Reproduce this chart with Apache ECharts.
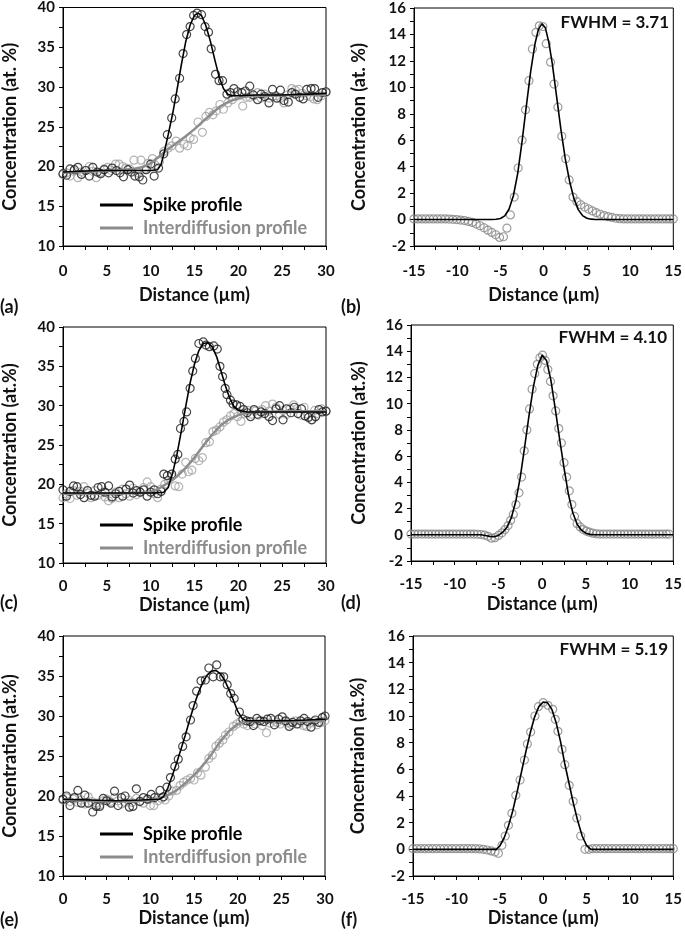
<!DOCTYPE html>
<html><head><meta charset="utf-8">
<script src="https://cdn.jsdelivr.net/npm/echarts/dist/echarts.min.js"></script>
<style>html,body{margin:0;padding:0;background:#fff}#c{width:685px;height:939px}</style>
</head><body><div id="c"></div>
<script>
// ---------------- DATA ----------------
const leftXTicks = [0, 5, 10, 15, 20, 25, 30];
const leftYTicks = [10, 15, 20, 25, 30, 35, 40];
const rightXTicks = [-15, -10, -5, 0, 5, 10, 15];
const rightYTicks = [-2, 0, 2, 4, 6, 8, 10, 12, 14, 16];
const fwhmLabels = ['FWHM = 3.71', 'FWHM = 4.10', 'FWHM = 5.19'];

// Panel (a)
const aSpikePts = [[0.0,19.1],[0.4,18.9],[0.8,19.7],[1.3,19.6],[1.7,19.9],[2.1,19.0],[2.6,19.5],[3.0,18.8],[3.4,19.9],[3.9,19.3],[4.3,19.1],[4.7,19.6],[5.2,19.2],[5.6,19.8],[6.1,19.5],[6.5,19.2],[6.9,18.7],[7.4,19.6],[7.8,19.3],[8.2,18.8],[8.7,18.7],[9.1,18.3],[9.5,19.6],[10.0,20.3],[10.4,18.8],[10.9,19.8],[11.5,21.6],[11.9,24.0],[12.4,26.1],[12.8,28.5],[13.3,31.1],[13.7,34.2],[14.1,36.6],[14.5,37.6],[14.9,39.0],[15.3,39.3],[15.8,39.1],[16.2,37.6],[16.6,36.9],[16.9,34.8],[17.4,31.6],[17.8,30.8],[18.2,30.8],[18.7,29.1],[19.1,29.3],[19.5,29.8],[19.9,29.4],[20.4,29.3],[20.8,29.5],[21.3,30.1],[21.7,29.0],[22.2,28.4],[22.6,29.1],[23.0,28.8],[23.5,28.0],[23.9,29.7],[24.4,28.6],[24.8,29.6],[25.2,28.3],[25.7,28.1],[26.1,29.3],[26.5,29.1],[27.0,28.7],[27.4,28.5],[27.8,29.7],[28.3,29.8],[28.7,29.8],[29.1,28.7],[29.6,29.3],[30.0,29.4]];
const aInterPts = [[0.0,19.0],[0.4,19.2],[0.8,18.8],[1.2,19.4],[1.7,18.6],[2.1,19.3],[2.5,19.5],[3.0,20.0],[3.4,19.4],[3.8,18.6],[4.2,19.2],[4.7,19.7],[5.1,19.9],[5.5,19.5],[6.0,20.3],[6.4,20.3],[6.8,20.0],[7.2,19.8],[7.6,19.7],[8.1,20.8],[8.5,19.2],[8.9,20.8],[9.3,19.6],[9.7,20.4],[10.2,21.0],[10.5,20.2],[11.0,20.6],[11.5,21.9],[12.0,22.3],[12.4,22.6],[12.9,23.2],[13.3,22.3],[13.8,22.8],[14.2,22.6],[14.5,23.6],[14.9,23.4],[15.4,25.6],[15.9,24.3],[16.3,26.3],[16.7,26.8],[17.1,26.5],[17.5,27.0],[17.9,27.8],[18.3,27.2],[18.8,28.0],[19.3,28.4],[19.7,28.8],[20.1,28.9],[20.5,27.6],[20.9,28.7],[21.3,28.7],[21.8,28.9],[22.2,29.3],[22.6,28.6],[23.0,29.1],[23.5,28.6],[23.9,28.8],[24.3,28.9],[24.8,28.6],[25.2,28.0],[25.6,29.0],[26.1,29.8],[26.5,29.6],[26.9,29.7],[27.3,29.2],[27.8,28.9],[28.2,28.8],[28.6,28.5],[29.0,28.4],[29.5,28.9],[30.0,29.3]];
const aSpikeFit = [[0,19.3],[2,19.4],[4,19.5],[6,19.5],[8,19.5],[10,19.5],[10.8,19.6],[11.2,20.3],[11.6,22.0],[12,24.0],[12.5,26.6],[13,29.6],[13.5,32.8],[14,35.7],[14.5,37.8],[15,39.0],[15.4,39.3],[15.8,39.0],[16.3,37.7],[16.8,35.8],[17.3,33.5],[17.8,31.3],[18.3,29.8],[18.8,29.1],[19.3,28.9],[20,28.9],[22,29.0],[25,29.0],[28,29.1],[30,29.2]];
const aInterFit = [[0,19.2],[2,19.3],[4,19.4],[6,19.5],[8,19.7],[9,19.9],[10,20.4],[11,21.3],[12,22.2],[13,23.0],[14,23.8],[15,24.7],[16,25.7],[17,26.7],[18,27.6],[19,28.2],[20,28.6],[21,28.8],[22,28.9],[24,28.9],[26,29.0],[28,29.0],[30,29.0]];

// Panel (b)
const bPts = [[-15.0,0.05],[-14.55,0.05],[-14.1,0.05],[-13.65,0.05],[-13.2,0.05],[-12.75,0.05],[-12.3,0.05],[-11.85,0.05],[-11.4,0.05],[-10.95,0.04],[-10.5,0.02],[-10.05,0.0],[-9.6,-0.04],[-9.15,-0.08],[-8.7,-0.14],[-8.25,-0.22],[-7.8,-0.34],[-7.35,-0.47],[-6.9,-0.62],[-6.45,-0.8],[-6.0,-0.97],[-5.55,-1.15],[-5.1,-1.35],[-4.65,-1.3],[-4.25,-0.65],[-3.85,0.35],[-3.4,1.7],[-2.95,3.9],[-2.5,6.0],[-2.1,8.3],[-1.7,10.5],[-1.3,12.9],[-0.9,14.15],[-0.5,14.65],[-0.1,14.6],[0.3,13.3],[0.8,11.9],[1.2,10.25],[1.65,8.5],[2.1,6.3],[2.55,4.6],[2.95,3.0],[3.4,1.7],[3.85,1.35],[4.3,1.12],[4.75,0.95],[5.2,0.8],[5.65,0.65],[6.1,0.52],[6.55,0.4],[7.0,0.3],[7.45,0.22],[7.9,0.16],[8.35,0.1],[8.8,0.07],[9.25,0.05],[9.7,0.05],[10.15,0.05],[10.6,0.05],[11.05,0.05],[11.5,0.05],[11.95,0.05],[12.4,0.05],[12.85,0.05],[13.3,0.05],[13.75,0.05],[14.2,0.05],[14.6,0.05],[15.0,0.05]];
const bFit = [[-15,0],[-8,0],[-6,0],[-5.5,0.02],[-5,0.08],[-4.5,0.28],[-4,0.8],[-3.5,1.8],[-3,3.5],[-2.5,5.9],[-2,8.6],[-1.5,11.2],[-1,13.3],[-0.6,14.4],[-0.2,14.8],[0.2,14.5],[0.6,13.4],[1,11.8],[1.5,9.3],[2,6.8],[2.5,4.6],[3,2.9],[3.5,1.6],[4,0.75],[4.5,0.3],[5,0.1],[5.5,0.03],[6,0],[15,0]];

// Panel (c)
const cSpikePts = [[0.0,19.3],[0.4,18.5],[0.8,19.1],[1.2,19.8],[1.6,19.7],[2.0,18.7],[2.4,18.3],[2.8,19.2],[3.2,18.6],[3.6,18.5],[4.0,19.6],[4.4,19.7],[4.8,19.0],[5.2,19.8],[5.6,18.4],[6.0,18.8],[6.4,19.1],[6.8,18.5],[7.2,19.4],[7.6,19.9],[8.0,18.9],[8.4,19.2],[8.8,19.0],[9.2,19.3],[9.6,18.5],[10.0,19.0],[10.4,19.3],[10.8,18.8],[11.2,19.1],[11.5,21.3],[11.9,21.1],[12.4,21.3],[12.8,23.2],[13.1,23.8],[13.4,27.1],[13.8,28.0],[14.1,29.2],[14.5,32.2],[14.8,34.4],[15.1,36.0],[15.5,37.9],[16.0,38.1],[16.3,37.7],[16.7,37.5],[17.2,37.6],[17.6,37.2],[17.9,35.0],[18.2,33.7],[18.5,32.2],[18.7,31.4],[19.1,30.7],[19.4,30.2],[19.8,30.1],[20.2,29.9],[20.6,29.5],[21.0,29.1],[21.4,28.6],[21.8,29.5],[22.2,28.9],[22.6,29.2],[23.0,29.0],[23.5,28.6],[23.9,28.1],[24.3,29.6],[24.7,30.0],[25.1,28.2],[25.5,29.6],[26.0,29.1],[26.4,29.8],[26.8,29.0],[27.2,29.6],[27.6,28.7],[28.0,28.5],[28.4,28.2],[28.8,28.6],[29.2,29.5],[29.6,29.2],[30.0,29.3]];
const cInterPts = [[0.0,18.3],[0.4,18.8],[0.8,18.2],[1.2,19.2],[1.6,18.6],[2.0,19.1],[2.4,19.7],[2.8,18.9],[3.2,18.3],[3.6,19.2],[4.0,18.6],[4.4,18.9],[4.8,18.4],[5.2,17.9],[5.6,18.2],[6.0,19.0],[6.4,18.3],[6.8,19.4],[7.2,18.8],[7.6,18.5],[8.0,19.5],[8.4,18.7],[8.8,19.0],[9.2,19.6],[9.6,20.3],[10.0,19.7],[10.4,18.8],[10.8,18.3],[11.2,19.4],[11.6,20.0],[12.0,20.5],[12.4,21.0],[12.8,19.8],[13.2,19.7],[13.6,21.3],[14.0,22.8],[14.3,21.6],[14.7,21.8],[15.1,23.3],[15.5,23.0],[15.9,23.4],[16.3,25.3],[16.7,25.4],[17.1,26.7],[17.5,26.9],[17.9,27.3],[18.3,27.9],[18.7,28.2],[19.1,28.7],[19.5,29.0],[19.9,28.6],[20.3,28.0],[20.7,29.0],[21.1,29.4],[21.5,28.9],[21.9,29.3],[22.3,28.8],[22.7,29.5],[23.1,30.0],[23.5,29.3],[23.9,30.2],[24.3,29.8],[24.7,28.9],[25.1,29.4],[25.5,28.9],[25.9,29.6],[26.3,30.1],[26.7,29.6],[27.1,28.8],[27.5,29.8],[27.9,28.9],[28.3,28.2],[28.7,29.4],[29.1,29.0],[29.5,29.6],[30.0,29.3]];
const cSpikeFit = [[0,18.9],[5,18.9],[10,18.9],[11.5,19.0],[12,19.6],[12.5,21.4],[13,23.8],[13.5,26.8],[14,29.9],[14.5,32.9],[15,35.3],[15.5,37.0],[16,37.9],[16.5,38.0],[17,37.5],[17.5,36.3],[18,34.5],[18.5,32.6],[19,31.0],[19.5,29.9],[20,29.4],[21,29.2],[23,29.2],[26,29.2],[30,29.2]];
const cInterFit = [[0,18.8],[3,18.8],[6,18.8],[9,18.9],[10,19.0],[11,19.5],[12,20.2],[13,21.0],[14,22.1],[15,23.4],[16,24.9],[17,26.3],[18,27.5],[19,28.3],[20,28.8],[21,29.1],[22,29.2],[25,29.3],[30,29.3]];

// Panel (d)
const dPts = [[-15.0,0.05],[-14.6,0.05],[-14.2,0.05],[-13.8,0.05],[-13.4,0.05],[-13.0,0.05],[-12.6,0.05],[-12.2,0.05],[-11.8,0.05],[-11.4,0.05],[-11.0,0.05],[-10.6,0.05],[-10.2,0.05],[-9.8,0.05],[-9.4,0.05],[-9.0,0.05],[-8.6,0.05],[-8.2,0.05],[-7.8,0.05],[-7.4,0.04],[-7.0,0.02],[-6.6,-0.02],[-6.2,-0.12],[-5.8,-0.26],[-5.4,-0.22],[-5.0,-0.05],[-4.6,0.15],[-4.25,0.4],[-3.9,0.7],[-3.6,1.1],[-3.3,1.55],[-3.0,2.3],[-2.65,3.2],[-2.35,4.4],[-2.05,6.4],[-1.75,8.0],[-1.45,9.6],[-1.15,11.1],[-0.85,12.3],[-0.55,13.0],[-0.25,13.5],[0.05,13.7],[0.35,13.3],[0.65,12.6],[0.95,11.7],[1.25,10.6],[1.55,9.45],[1.9,8.1],[2.2,7.0],[2.5,5.5],[2.8,4.4],[3.1,3.35],[3.4,2.3],[3.7,1.4],[4.0,0.85],[4.35,0.6],[4.7,0.4],[5.05,0.28],[5.4,0.2],[5.8,0.12],[6.2,0.07],[6.6,0.05],[7.0,0.05],[7.4,0.05],[7.8,0.05],[8.2,0.05],[8.6,0.05],[9.0,0.05],[9.4,0.05],[9.8,0.05],[10.2,0.05],[10.6,0.05],[11.0,0.05],[11.4,0.05],[11.8,0.05],[12.2,0.05],[12.6,0.05],[13.0,0.05],[13.4,0.05],[13.8,0.05],[14.2,0.05],[14.5,0.05]];
const dFit = [[-15,0],[-7,0],[-6.5,-0.05],[-6,-0.12],[-5.5,-0.15],[-5,-0.05],[-4.5,0.2],[-4,0.6],[-3.5,1.35],[-3,2.6],[-2.5,4.4],[-2,6.7],[-1.5,9.1],[-1,11.3],[-0.5,12.9],[0,13.7],[0.5,13.3],[1,11.8],[1.5,9.6],[2,7.3],[2.5,5.1],[3,3.1],[3.5,1.7],[4,0.8],[4.5,0.35],[5,0.12],[5.5,0.03],[6,0],[15,0]];

// Panel (e)
const eSpikePts = [[0.0,19.6],[0.4,20.0],[0.8,18.8],[1.3,19.8],[1.7,20.7],[2.1,19.1],[2.5,20.1],[2.9,19.1],[3.4,18.0],[3.8,18.7],[4.2,18.7],[4.6,19.7],[5.0,19.4],[5.5,19.1],[5.9,20.6],[6.3,18.8],[6.7,19.8],[7.1,20.0],[7.6,18.6],[8.0,18.7],[8.4,20.9],[8.8,19.3],[9.2,19.8],[9.7,19.6],[10.1,20.2],[10.5,19.8],[11.1,20.7],[11.5,19.9],[11.9,21.1],[12.3,22.3],[12.8,23.7],[13.2,24.6],[13.7,26.2],[14.1,27.4],[14.6,29.5],[14.9,31.3],[15.3,33.1],[15.8,34.4],[16.3,34.5],[16.7,36.0],[17.2,34.9],[17.6,36.4],[18.0,34.9],[18.4,34.9],[18.8,33.9],[19.2,32.8],[19.6,32.2],[20.2,30.5],[20.6,29.6],[21.0,29.4],[21.4,29.3],[21.8,28.8],[22.2,29.7],[22.6,29.4],[23.0,29.3],[23.4,29.6],[23.8,29.7],[24.2,28.9],[24.7,29.6],[25.1,29.9],[25.5,29.4],[25.9,28.7],[26.3,29.2],[26.8,29.0],[27.2,29.4],[27.6,29.7],[28.0,29.3],[28.4,28.6],[28.9,29.5],[29.3,29.2],[29.7,29.8],[30.0,30.0]];
const eInterPts = [[0.0,19.5],[0.4,19.8],[0.8,19.3],[1.2,19.6],[1.7,19.2],[2.1,19.5],[2.5,19.0],[2.9,19.9],[3.3,19.3],[3.8,19.1],[4.2,18.9],[4.6,19.4],[5.0,19.6],[5.4,19.3],[5.9,19.8],[6.3,19.4],[6.7,19.0],[7.1,19.2],[7.5,19.5],[7.9,19.2],[8.4,19.7],[8.8,19.4],[9.2,19.1],[9.6,19.6],[10.0,18.8],[10.4,18.8],[10.9,19.4],[11.3,19.7],[11.7,19.5],[12.1,20.0],[12.5,20.6],[13.0,20.7],[13.4,21.3],[13.8,21.7],[14.2,22.0],[14.6,22.2],[15.0,22.0],[15.4,22.9],[15.8,22.6],[16.3,23.6],[16.7,24.7],[17.1,25.1],[17.5,26.2],[17.9,26.6],[18.3,27.0],[18.6,27.6],[19.0,28.0],[19.5,28.7],[19.9,29.0],[20.3,29.3],[20.7,29.0],[21.1,28.8],[21.6,29.3],[22.0,29.0],[22.4,29.4],[22.8,28.8],[23.3,27.9],[23.7,29.1],[24.1,29.5],[24.5,29.2],[24.9,29.0],[25.4,29.3],[25.8,29.1],[26.2,28.9],[26.6,29.4],[27.0,29.0],[27.5,28.8],[27.9,28.7],[28.3,29.1],[28.7,29.3],[29.1,28.9],[29.6,29.2],[30.0,29.4]];
const eSpikeFit = [[0,19.6],[3,19.5],[6,19.4],[9,19.5],[11,19.6],[11.5,19.9],[12,21.0],[12.5,22.5],[13,24.1],[13.5,25.8],[14,27.6],[14.5,29.5],[15,31.3],[15.5,32.9],[16,34.2],[16.5,35.1],[17,35.6],[17.5,35.7],[18,35.3],[18.5,34.5],[19,33.3],[19.5,32.0],[20,30.6],[20.5,29.7],[21,29.4],[23,29.4],[26,29.4],[30,29.6]];
const eInterFit = [[0,19.6],[2,19.4],[5,19.3],[8,19.3],[10,19.5],[11,19.7],[12,20.1],[13,20.7],[14,21.6],[15,22.6],[16,23.8],[17,25.2],[18,26.8],[19,28.1],[20,29.0],[21,29.3],[22,29.4],[26,29.3],[30,29.4]];

// Panel (f)
const fPts = [[-15.0,0.05],[-14.55,0.05],[-14.1,0.05],[-13.65,0.05],[-13.2,0.05],[-12.75,0.05],[-12.3,0.05],[-11.85,0.05],[-11.4,0.05],[-10.95,0.05],[-10.5,0.05],[-10.05,0.05],[-9.6,0.05],[-9.15,0.05],[-8.7,0.05],[-8.25,0.05],[-7.8,0.05],[-7.35,0.03],[-6.9,0.0],[-6.45,-0.05],[-6.0,-0.12],[-5.55,-0.2],[-5.15,-0.3],[-4.75,0.3],[-4.37,1.0],[-4.0,1.8],[-3.6,2.7],[-3.15,4.05],[-2.66,5.2],[-2.16,6.7],[-1.82,7.9],[-1.44,8.8],[-0.95,10.0],[-0.55,10.7],[0.0,11.0],[0.55,10.8],[1.1,10.5],[1.4,9.75],[1.7,8.85],[2.17,7.5],[2.5,6.35],[3.0,4.8],[3.46,3.6],[3.88,2.35],[4.33,1.0],[4.82,0.0],[5.28,0.0],[5.7,0.05],[6.15,0.05],[6.6,0.05],[7.05,0.05],[7.5,0.05],[7.95,0.05],[8.4,0.05],[8.85,0.05],[9.3,0.05],[9.75,0.05],[10.2,0.05],[10.65,0.05],[11.1,0.05],[11.55,0.05],[12.0,0.05],[12.45,0.05],[12.9,0.05],[13.35,0.05],[13.8,0.05],[14.25,0.05],[14.65,0.05],[15.0,0.05]];
const fFit = [[-15,0],[-5.4,0],[-5,0.25],[-4.5,0.85],[-4,1.75],[-3.5,2.9],[-3,4.3],[-2.5,5.8],[-2,7.3],[-1.5,8.7],[-1,9.9],[-0.5,10.7],[0,11.05],[0.2,11.1],[0.5,11.0],[1,10.5],[1.5,9.5],[2,8.1],[2.5,6.4],[3,4.9],[3.5,3.4],[4,2.1],[4.5,1.0],[5,0.3],[5.5,0],[15,0]];

// ---------------- LAYOUT / STYLE ----------------
const FONT = 'Lato, "Open Sans", "Liberation Sans", sans-serif';
const TXT = '#111';
const panels = [
  {kind:'L', grid:{left:63, top:7, width:263, height:239}, yName:'Concentration (at. %)', tag:'(a)', tagPos:[0,298], spike:aSpikePts, inter:aInterPts, spikeFit:aSpikeFit, interFit:aInterFit, lm:18, ng:40, yng:44},
  {kind:'R', grid:{left:414, top:8, width:263, height:238}, yName:'Concentration (at. %)', tag:'(b)', tagPos:[341,298], pts:bPts, fit:bFit, fwhm:fwhmLabels[0], fwTop:14, lm:18, ng:40, yng:46},
  {kind:'L', grid:{left:63, top:327, width:263, height:236}, yName:'Concentration (at.%)', tag:'(c)', tagPos:[0,594], spike:cSpikePts, inter:cInterPts, spikeFit:cSpikeFit, interFit:cInterFit, lm:16, ng:33, yng:44},
  {kind:'R', grid:{left:411, top:325, width:264, height:236}, yName:'Concentration (at.%)', tag:'(d)', tagPos:[341,594], pts:dPts, fit:dFit, fwhm:fwhmLabels[1], fwTop:329, lm:16, ng:34, yng:43},
  {kind:'L', grid:{left:63, top:636, width:262, height:240}, yName:'Concentration (at.%)', tag:'(e)', tagPos:[0,911], spike:eSpikePts, inter:eInterPts, spikeFit:eSpikeFit, interFit:eInterFit, lm:16, ng:33, yng:44},
  {kind:'R', grid:{left:413, top:636, width:263, height:240}, yName:'Concentraion (at.%)', tag:'(f)', tagPos:[341,911], pts:fPts, fit:fFit, fwhm:fwhmLabels[2], fwTop:641, lm:16, ng:33, yng:46}
];

const grids = [], xAxes = [], yAxes = [], series = [], titles = [], legends = [];
const axisCommon = {
  axisLine:{show:true, onZero:false, lineStyle:{color:'#000', width:1}},
  axisTick:{show:true, length:4, lineStyle:{color:'#000', width:1}},
  minorTick:{show:true, splitNumber:2, length:4, lineStyle:{color:'#000', width:1}},
  splitLine:{show:false}, minorSplitLine:{show:false}
};
panels.forEach((p, i) => {
  grids.push(Object.assign({show:true, borderColor:'#000', borderWidth:1, containLabel:false}, p.grid));
  const xt = p.kind === 'L' ? leftXTicks : rightXTicks;
  const yt = p.kind === 'L' ? leftYTicks : rightYTicks;
  xAxes.push(Object.assign({}, axisCommon, {
    type:'value', gridIndex:i, min:xt[0], max:xt[xt.length-1], interval:xt[1]-xt[0],
    name:'Distance (µm)', nameLocation:'middle', nameGap:p.ng,
    nameTextStyle:{fontFamily:FONT, fontWeight:'bold', fontSize:18, color:TXT},
    axisLabel:{fontFamily:FONT, fontWeight:'bold', fontSize:15, color:TXT, margin:p.lm}
  }));
  yAxes.push(Object.assign({}, axisCommon, {
    type:'value', gridIndex:i, min:yt[0], max:yt[yt.length-1], interval:yt[1]-yt[0],
    name:p.yName, nameLocation:'middle', nameGap:p.yng,
    nameTextStyle:{fontFamily:FONT, fontWeight:'bold', fontSize:18, color:TXT},
    axisLabel:{fontFamily:FONT, fontWeight:'bold', fontSize:15, color:TXT, margin:8}
  }));
  titles.push({text:p.tag, left:p.tagPos[0], top:p.tagPos[1], padding:0,
    textStyle:{fontFamily:FONT, fontWeight:'bold', fontSize:18, color:TXT}});
  if (p.kind === 'L') {
    series.push({type:'scatter', name:'Interdiffusion data', xAxisIndex:i, yAxisIndex:i, data:p.inter,
      symbol:'circle', symbolSize:8, itemStyle:{color:'rgba(0,0,0,0)', borderColor:'#a3a3a3', borderWidth:1.2}, z:2});
    series.push({type:'scatter', name:'Spike data', xAxisIndex:i, yAxisIndex:i, data:p.spike,
      symbol:'circle', symbolSize:8, itemStyle:{color:'rgba(0,0,0,0)', borderColor:'#1a1a1a', borderWidth:1.2}, z:3});
    series.push({type:'line', name:'Interdiffusion profile', xAxisIndex:i, yAxisIndex:i, data:p.interFit,
      showSymbol:false, lineStyle:{color:'#8c8c8c', width:2.5}, itemStyle:{color:'#8c8c8c'}, z:4});
    series.push({type:'line', name:'Spike profile', xAxisIndex:i, yAxisIndex:i, data:p.spikeFit,
      showSymbol:false, lineStyle:{color:'#000', width:1.6}, itemStyle:{color:'#000'}, z:5});
    legends.push({orient:'vertical', left:p.grid.left+37, top:p.grid.top+189, itemGap:5,
      icon:'rect', itemWidth:33, itemHeight:3, padding:0, selectedMode:false,
      textStyle:{fontFamily:FONT, fontWeight:'bold', fontSize:18, padding:[0,0,0,5]},
      data:[{name:'Spike profile', textStyle:{color:'#000'}}, {name:'Interdiffusion profile', textStyle:{color:'#8c8c8c'}}]});
  } else {
    series.push({type:'scatter', name:'Data', xAxisIndex:i, yAxisIndex:i, data:p.pts,
      symbol:'circle', symbolSize:8, itemStyle:{color:'rgba(0,0,0,0)', borderColor:'#858585', borderWidth:1.2}, z:2});
    series.push({type:'line', name:'Fit', xAxisIndex:i, yAxisIndex:i, data:p.fit,
      showSymbol:false, lineStyle:{color:'#000', width:1.6}, z:4});
    titles.push({text:p.fwhm, right:685-(p.grid.left+p.grid.width)+8, top:p.fwTop, padding:0,
      textStyle:{fontFamily:FONT, fontWeight:'bold', fontSize:17, color:TXT}});
  }
});

const chart = echarts.init(document.getElementById('c'), null, {renderer:'canvas'});
chart.setOption({
  animation:false, backgroundColor:'#fff',
  title:titles, legend:legends, grid:grids, xAxis:xAxes, yAxis:yAxes, series:series
});
</script></body></html>
